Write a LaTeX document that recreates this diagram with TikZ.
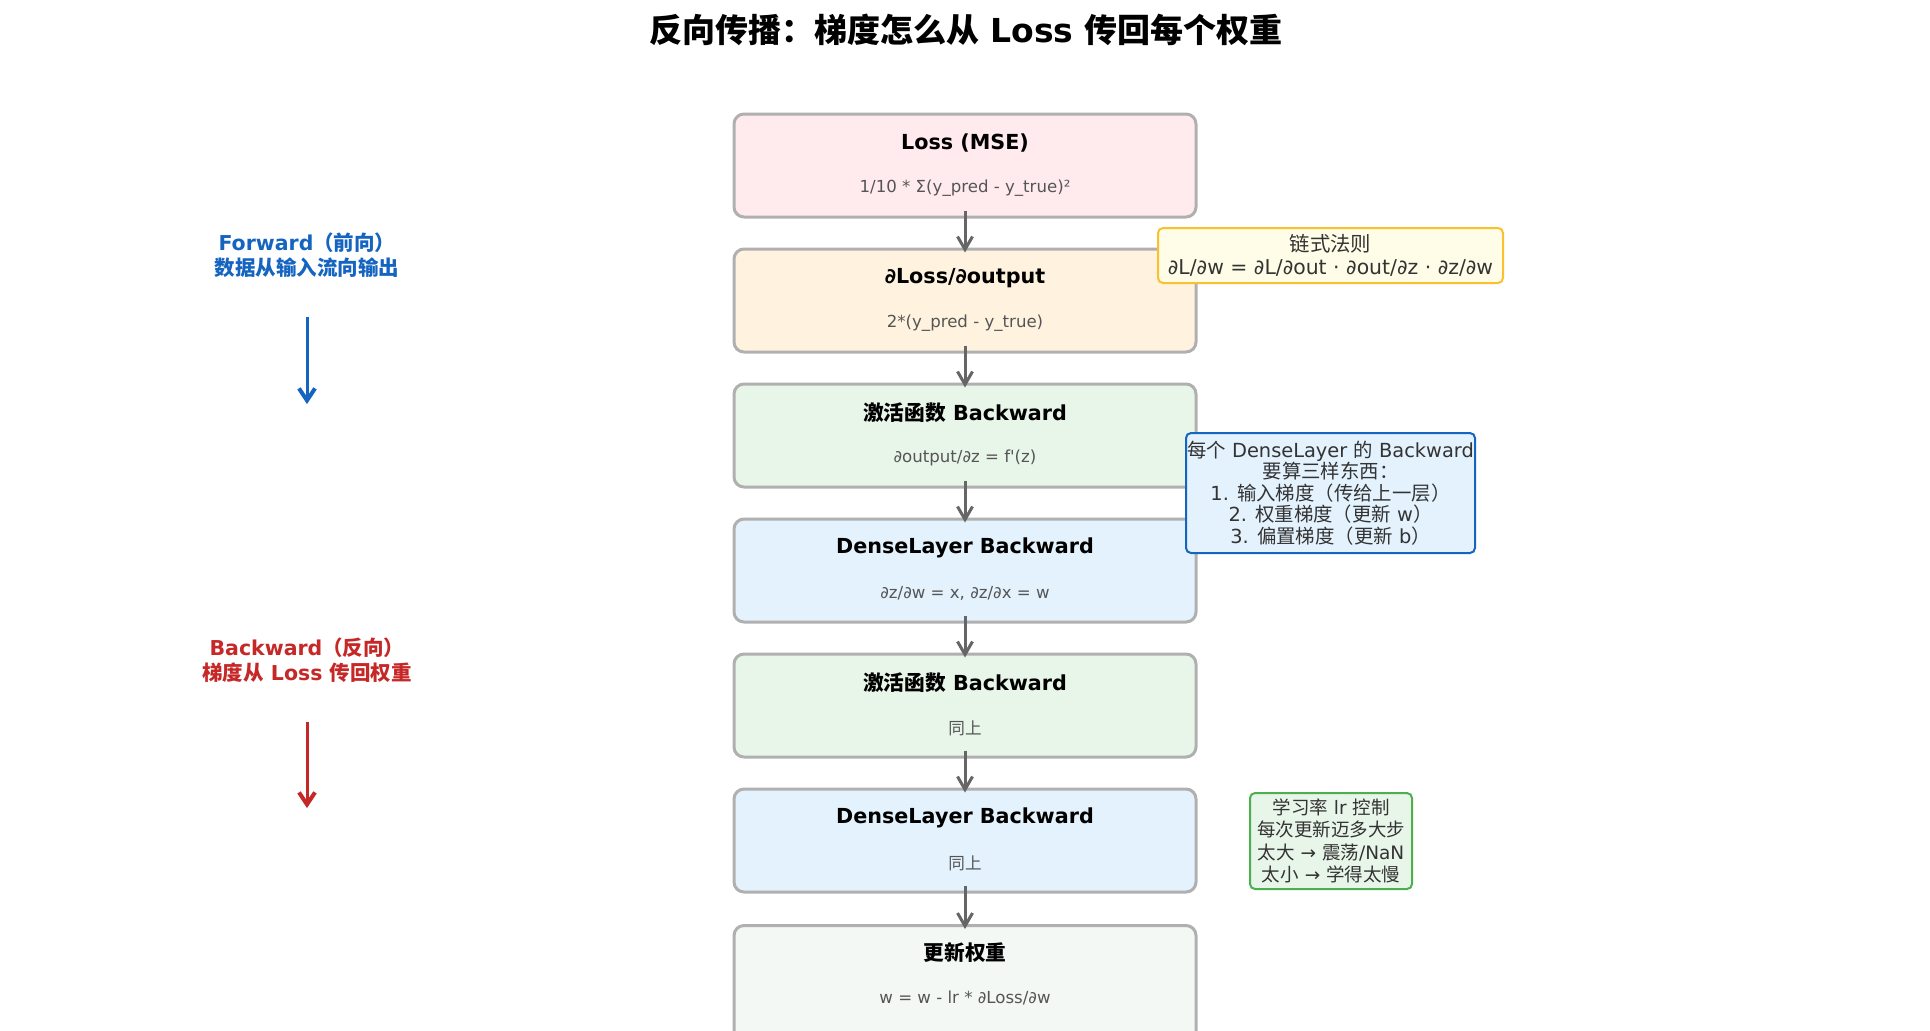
\documentclass[tikz,border=0pt]{standalone}
\usepackage{fontspec}
\setmainfont{DejaVu Sans}
\newfontfamily\plainfont{DejaVu Sans}
\newfontfamily\cjk{Noto Sans CJK SC}
\newcommand\zh[1]{{\cjk #1}}
\usetikzlibrary{arrows.meta}
\definecolor{bordergray}{HTML}{B0B0B0}
\definecolor{arrgray}{HTML}{666666}
\definecolor{subgray}{HTML}{555555}
\definecolor{notetext}{HTML}{333333}
\definecolor{fpink}{HTML}{FFEBEE}
\definecolor{forange}{HTML}{FFF3E0}
\definecolor{fgreen}{HTML}{E8F5E9}
\definecolor{fblue}{HTML}{E3F2FD}
\definecolor{fpale}{HTML}{F3F8F4}
\definecolor{fyellow}{HTML}{FFFDE7}
\definecolor{byellow}{HTML}{FBC02D}
\definecolor{bblue}{HTML}{1565C0}
\definecolor{bgreen}{HTML}{4CAF50}
\definecolor{fwdblue}{HTML}{1565C0}
\definecolor{bwdred}{HTML}{C62828}
\tikzset{
  stagebox/.style={draw=bordergray, line width=1.5pt, rounded corners=5pt,
    minimum width=231pt, minimum height=51.5pt, inner sep=0pt},
  stagetitle/.style={font=\fontsize{10.35}{12}\selectfont\bfseries, text=black, inner sep=0pt},
  stagesub/.style={font=\fontsize{8.3}{10}\selectfont, text=subgray, inner sep=0pt},
  flowarrow/.style={draw=arrgray, line width=1.5pt, -{Straight Barb[length=6.5pt,width=7.5pt,line width=1.5pt]}},
  notebox/.style={line width=1pt, rounded corners=2.5pt, align=center, inner sep=0pt, text=notetext},
  sidelabel/.style={font=\fontsize{10.25}{12.5}\selectfont\bfseries, align=center, inner sep=0pt},
  sidearrow/.style={line width=1.5pt, -{Straight Barb[length=6pt,width=8pt,line width=2pt]}}
}
\begin{document}
\begin{tikzpicture}[x=0.5pt, y=-0.5pt]
\useasboundingbox (0,0) rectangle (1930,1030);
\clip (0,0) rectangle (1930,1030);
% title
\node[font=\fontsize{16.5}{20}\selectfont\bfseries, inner sep=0pt] (title) at (966,30)
  {\zh{反向传播：梯度怎么从} Loss \zh{传回每个权重}};
% stage boxes
\node[stagebox, fill=fpink]   (b1) at (965,165.5) {};
\node[stagebox, fill=forange] (b2) at (965,300.5) {};
\node[stagebox, fill=fgreen]  (b3) at (965,435.5) {};
\node[stagebox, fill=fblue]   (b4) at (965,570.5) {};
\node[stagebox, fill=fgreen]  (b5) at (965,705.5) {};
\node[stagebox, fill=fblue]   (b6) at (965,840.5) {};
\node[stagebox, fill=fpale, minimum height=60pt, anchor=north] (b7) at (965,924) {};
% texts
\node[stagetitle] (b1t) at ([yshift=11.25pt]b1.center) {Loss (MSE)};
\node[stagesub]   (b1s) at ([yshift=-11.25pt]b1.center) {1/10 * Σ(y\_pred - y\_true)²};
\node[stagetitle] (b2t) at ([yshift=11.25pt]b2.center) {∂Loss/∂output};
\node[stagesub]   (b2s) at ([yshift=-11.25pt]b2.center) {2*(y\_pred - y\_true)};
\node[stagetitle] (b3t) at ([yshift=11.25pt]b3.center) {\zh{激活函数} Backward};
\node[stagesub]   (b3s) at ([yshift=-11.25pt]b3.center) {∂output/∂z = f{\plainfont '}(z)};
\node[stagetitle] (b4t) at ([yshift=11.25pt]b4.center) {DenseLayer Backward};
\node[stagesub]   (b4s) at ([yshift=-11.25pt]b4.center) {∂z/∂w = x, ∂z/∂x = w};
\node[stagetitle] (b5t) at ([yshift=11.25pt]b5.center) {\zh{激活函数} Backward};
\node[stagesub]   (b5s) at ([yshift=-11.25pt]b5.center) {\zh{同上}};
\node[stagetitle] (b6t) at ([yshift=11.25pt]b6.center) {DenseLayer Backward};
\node[stagesub]   (b6s) at ([yshift=-11.25pt]b6.center) {\zh{同上}};
\node[stagetitle] (b7t) at (965,953) {\zh{更新权重}};
\node[stagesub]   (b7s) at (965,998) {w = w - lr * ∂Loss/∂w};
% flow arrows
\draw[flowarrow] ([yshift=4pt]b1.south) -- ([yshift=-2.5pt]b2.north);
\draw[flowarrow] ([yshift=4pt]b2.south) -- ([yshift=-2.5pt]b3.north);
\draw[flowarrow] ([yshift=4pt]b3.south) -- ([yshift=-2.5pt]b4.north);
\draw[flowarrow] ([yshift=4pt]b4.south) -- ([yshift=-2.5pt]b5.north);
\draw[flowarrow] ([yshift=4pt]b5.south) -- ([yshift=-2.5pt]b6.north);
\draw[flowarrow] ([yshift=4pt]b6.south) -- ([yshift=-2.5pt]b7.north);
% notes
\node[notebox, draw=byellow, fill=fyellow, minimum width=172.5pt, minimum height=27.5pt,
      font=\fontsize{10.2}{11.5}\selectfont] (chain) at (1330.5,255.5)
  {\zh{链式法则}\\∂L/∂w = ∂L/∂out · ∂out/∂z · ∂z/∂w};
\node[notebox, draw=bblue, fill=fblue, minimum width=144.5pt, minimum height=60pt,
      font=\fontsize{9.7}{10.75}\selectfont] (dense) at (1330.5,493)
  {\zh{每个} DenseLayer \zh{的} Backward\\\zh{要算三样东西：}\\1. \zh{输入梯度（传给上一层）}\\2. \zh{权重梯度（更新} w\zh{）}\\3. \zh{偏置梯度（更新} b\zh{）}};
\node[notebox, draw=bgreen, fill=fgreen, minimum width=81pt, minimum height=48pt,
      font=\fontsize{9.25}{11.2}\selectfont] (lr) at (1331,841)
  {\zh{学习率} lr \zh{控制}\\\zh{每次更新迈多大步}\\\zh{太大} → \zh{震荡}/NaN\\\zh{太小} → \zh{学得太慢}};
% side labels
\node[sidelabel, text=fwdblue] (fwd) at (307,255.5) {Forward\zh{（前向）}\\\zh{数据从输入流向输出}};
\coordinate (fwdA) at (307,317);
\coordinate (fwdB) at (307,404);
\draw[sidearrow, draw=fwdblue] (fwdA) -- (fwdB);
\node[sidelabel, text=bwdred] (bwd) at (307,660) {Backward\zh{（反向）}\\\zh{梯度从} Loss \zh{传回权重}};
\coordinate (bwdA) at (307,722);
\coordinate (bwdB) at (307,808);
\draw[sidearrow, draw=bwdred] (bwdA) -- (bwdB);
\end{tikzpicture}
\end{document}
